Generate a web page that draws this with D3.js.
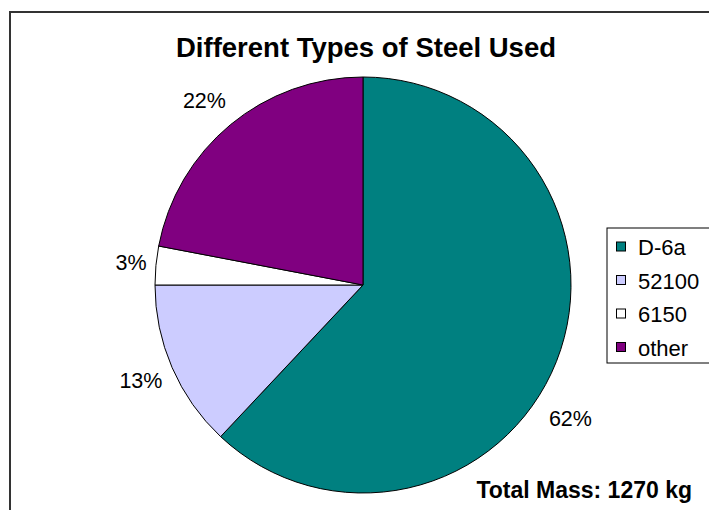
<!DOCTYPE html>
<html>
<head>
<meta charset="utf-8">
<script src="https://cdn.jsdelivr.net/npm/d3@7"></script>
<style>
  html, body { margin: 0; padding: 0; background: #fff; }
  svg { display: block; }
  text { font-family: Arial, "Liberation Sans", sans-serif; }
</style>
</head>
<body>
<script>
// Steel usage by type (percent of total mass)
const categories = ["D-6a", "52100", "6150", "other"];
const shares = [62, 13, 3, 22];
const colors = ["#008080", "#CCCCFF", "#FFFFFF", "#800080"];
const titleText = "Different Types of Steel Used";
const totalText = "Total Mass: 1270 kg";

const W = 709, H = 510;
const svg = d3.select("body").append("svg").attr("width", W).attr("height", H);

// chart frame (open on right and bottom edges)
svg.append("rect")
  .attr("x", 10).attr("y", 12)
  .attr("width", 760).attr("height", 560)
  .attr("fill", "#fff")
  .attr("stroke", "#333").attr("stroke-width", 2);

svg.append("text")
  .attr("x", 366).attr("y", 57)
  .attr("text-anchor", "middle")
  .attr("font-size", 27.5).attr("font-weight", "bold")
  .text(titleText);

const cx = 363, cy = 285, r = 208;
const data = categories.map((c, i) => ({ name: c, value: shares[i], color: colors[i] }));

const pie = d3.pie().value(d => d.value).sort(null);
const arc = d3.arc().innerRadius(0).outerRadius(r);
const arcs = pie(data);

const g = svg.append("g").attr("transform", `translate(${cx},${cy})`);
g.selectAll("path.slice")
  .data(arcs)
  .join("path")
  .attr("class", "slice")
  .attr("d", arc)
  .attr("fill", d => d.data.color)
  .attr("stroke", "#000").attr("stroke-width", 1);

// percentage labels outside each slice: radial distance and angular nudge (radians) per label
const labelRadius = [247, 242, 233, 243];
const labelNudge = [0.197, 0, 0, -0.02];
g.selectAll("text.pct")
  .data(arcs)
  .join("text")
  .attr("class", "pct")
  .attr("transform", (d, i) => {
    const a = (d.startAngle + d.endAngle) / 2 + labelNudge[i];
    const x = Math.sin(a) * labelRadius[i];
    const y = -Math.cos(a) * labelRadius[i];
    return `translate(${x},${y})`;
  })
  .attr("text-anchor", "middle")
  .attr("dominant-baseline", "central")
  .attr("font-size", 21.5)
  .text(d => d.data.value + "%");

// legend
const lg = svg.append("g").attr("transform", "translate(607,228)");
lg.append("rect")
  .attr("x", 0).attr("y", 0).attr("width", 110).attr("height", 135)
  .attr("fill", "#fff").attr("stroke", "#000").attr("stroke-width", 1);
const items = lg.selectAll("g.item")
  .data(data)
  .join("g")
  .attr("class", "item")
  .attr("transform", (d, i) => `translate(0,${18.5 + i * 33.5})`);
items.append("rect")
  .attr("x", 9.5).attr("y", -4.5).attr("width", 9).attr("height", 9)
  .attr("fill", d => d.color).attr("stroke", "#000").attr("stroke-width", 1);
items.append("text")
  .attr("x", 31).attr("y", 1)
  .attr("dominant-baseline", "central")
  .attr("font-size", 22)
  .text(d => d.name);

svg.append("text")
  .attr("x", 692).attr("y", 498)
  .attr("text-anchor", "end")
  .attr("font-size", 23).attr("font-weight", "bold")
  .text(totalText);
</script>
</body>
</html>
